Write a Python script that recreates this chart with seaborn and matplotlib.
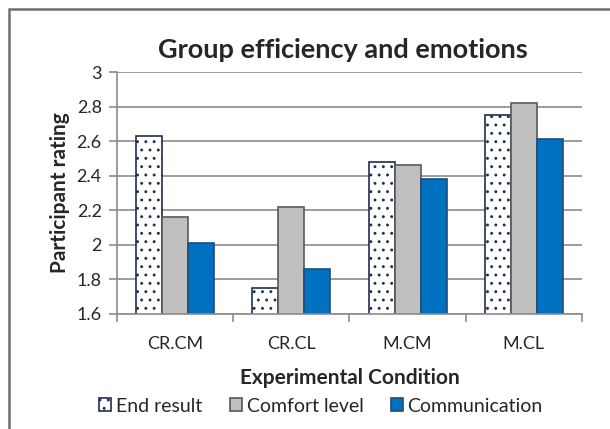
import matplotlib
matplotlib.use("Agg")
import matplotlib.pyplot as plt
import seaborn as sns
import numpy as np
import pandas as pd
from matplotlib.patches import Rectangle

conditions = ["CR.CM", "CR.CL", "M.CM", "M.CL"]
measures = ["End result", "Comfort level", "Communication"]
end_result = [2.63, 1.75, 2.48, 2.75]
comfort_level = [2.16, 2.22, 2.46, 2.82]
communication = [2.01, 1.86, 2.38, 2.61]
y_ticks = [1.6, 1.8, 2.0, 2.2, 2.4, 2.6, 2.8, 3.0]
y_tick_labels = ["1.6", "1.8", "2", "2.2", "2.4", "2.6", "2.8", "3"]

df = pd.DataFrame({
    "condition": conditions * 3,
    "measure": np.repeat(measures, len(conditions)),
    "rating": end_result + comfort_level + communication,
})

sns.set_theme(style="white")
plt.rcParams["font.family"] = ["Lato", "DejaVu Sans"]
plt.rcParams["hatch.linewidth"] = 0.9

face = {"End result": "#FFFFFF", "Comfort level": "#BFBFBF", "Communication": "#0070C0"}
edge = ["#1F2F50", "#595959", "#1F4E79"]
grid_col = "#8C8C8C"

fig = plt.figure(figsize=(6.10, 4.29), dpi=100)
ax = fig.add_axes([117 / 610, 1 - 314 / 429, 465 / 610, 242 / 429])

sns.barplot(data=df, x="condition", y="rating", hue="measure", hue_order=measures,
            palette=face, saturation=1, width=0.67, gap=0, legend=False, ax=ax)

for cont, ec, m in zip(ax.containers, edge, measures):
    for bar in cont:
        bar.set_edgecolor(ec)
        bar.set_linewidth(1.2)
        if m == "End result":
            bar.set_hatch("..")
    cont.set_label(m)

ax.set_ylim(1.6, 3.0)
ax.set_xlim(-0.5, 3.5)
ax.set_yticks(y_ticks)
ax.set_yticklabels(y_tick_labels)
ax.yaxis.grid(True, color=grid_col, lw=1.2)
ax.set_axisbelow(True)
for s in ["top", "right"]:
    ax.spines[s].set_visible(False)
for s in ["left", "bottom"]:
    ax.spines[s].set_color(grid_col)
    ax.spines[s].set_linewidth(1.2)
ax.tick_params(axis="y", length=6, color=grid_col, width=1.2, labelsize=13, pad=5, left=True)
ax.tick_params(axis="x", which="major", length=0, labelsize=13, pad=16)
ax.set_xticks([-0.5, 0.5, 1.5, 2.5, 3.5], minor=True)
ax.tick_params(axis="x", which="minor", length=6, color=grid_col, width=1.2, bottom=True)

ax.set_xlabel("Experimental Condition", fontsize=15, fontweight="bold", labelpad=11)
ax.set_ylabel("Participant rating", fontsize=15, fontweight="bold", labelpad=5)
fig.text(343 / 610, 1 - 58 / 429, "Group efficiency and emotions", ha="center", va="baseline",
         fontsize=19.5, fontweight="bold")

fig.legend(handles=ax.containers, labels=measures, loc="center", bbox_to_anchor=(321 / 610, 1 - 406 / 429),
           ncol=3, frameon=False, fontsize=14, handlelength=0.62, handleheight=0.62,
           handletextpad=0.25, columnspacing=1.4, borderpad=0)

fig.patches.append(Rectangle((9 / 610, -0.5), 2, 1.5 - 9 / 429, transform=fig.transFigure,
                             fill=False, edgecolor="#6E6E6E", lw=1.8, figure=fig))

fig.savefig("out.png", dpi=100)
